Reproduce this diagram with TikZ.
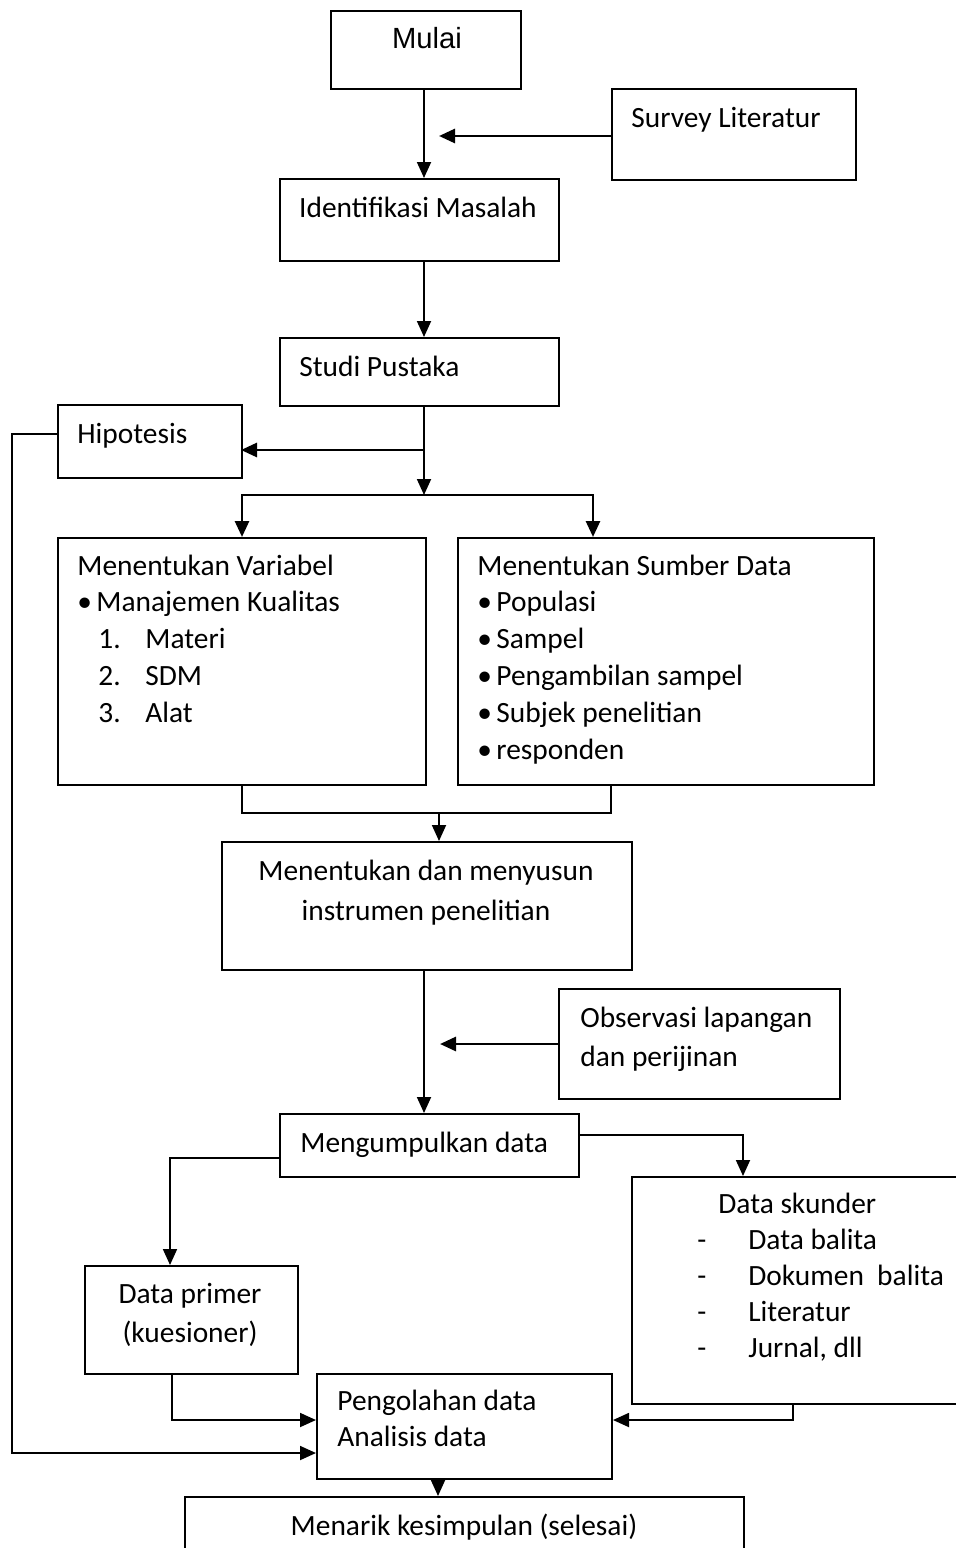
\documentclass[tikz,border=0pt]{standalone}
\usepackage{fontspec}
\setmainfont{Carlito}
\newfontfamily\arialfont{Liberation Sans}
\usetikzlibrary{arrows.meta, positioning}

\begin{document}
\begin{tikzpicture}[
    x=0.5pt, y=-0.5pt,
    box/.style={draw, line width=1pt, inner sep=0, anchor=north west},
    txt/.style={inner sep=0, anchor=base west, align=flush left, font=\fontsize{14.7}{18.4}\selectfont},
    ctxt/.style={txt, anchor=base, align=flush center},
    link/.style={line width=0.9pt},
    arrow/.style={link, -{Triangle[length=8pt, width=7pt]}},
    thickarrow/.style={arrow, line width=1.4pt}
]
\useasboundingbox (0,0) rectangle (956,1548);
\clip (0,0) rectangle (956,1548);

% boxes
\node[box, minimum width=95pt, minimum height=39pt] (mulai) at (330,10) {};
\node[txt, anchor=base, font=\arialfont\fontsize{14.6}{18}\selectfont] (mulaitxt) at (427,48) {Mulai};

\node[box, minimum width=122pt, minimum height=45.5pt] (survey) at (611,88) {};
\node[txt] (surveytxt) at (631,127) {Survey Literatur};

\node[box, minimum width=139.5pt, minimum height=41pt] (ident) at (279,178) {};
\node[ctxt] (identtxt) at (418,217) {Identifikasi Masalah};

\node[box, minimum width=139.5pt, minimum height=34pt] (studi) at (279,337) {};
\node[txt] (studitxt) at (299,376) {Studi Pustaka};

\node[box, minimum width=92pt, minimum height=36.5pt] (hipo) at (57,404) {};
\node[txt] (hipotxt) at (77,443) {Hipotesis};

\node[box, minimum width=184pt, minimum height=123.5pt] (var) at (57,537) {};
\node[txt, text width=170pt] (vartxt) at (77,575) {Menentukan Variabel\\
    \makebox[9.5pt][l]{\textbullet}Manajemen Kualitas\\
    \hspace*{10.5pt}\makebox[23.5pt][l]{1.}Materi\\
    \hspace*{10.5pt}\makebox[23.5pt][l]{2.}SDM\\
    \hspace*{10.5pt}\makebox[23.5pt][l]{3.}Alat};

\node[box, minimum width=208pt, minimum height=123.5pt] (sumber) at (457,537) {};
\node[txt, text width=200pt] (sumbertxt) at (477,575) {Menentukan Sumber Data\\
    \makebox[9.5pt][l]{\textbullet}Populasi\\
    \makebox[9.5pt][l]{\textbullet}Sampel\\
    \makebox[9.5pt][l]{\textbullet}Pengambilan sampel\\
    \makebox[9.5pt][l]{\textbullet}Subjek penelitian\\
    \makebox[9.5pt][l]{\textbullet}responden};

\node[box, minimum width=205pt, minimum height=64pt] (instr) at (221,841) {};
\node[ctxt, text width=200pt] (instrtxt) at (426,880) {Menentukan dan menyusun\\[2pt] instrumen penelitian};

\node[box, minimum width=140.5pt, minimum height=55pt] (obs) at (558,988) {};
\node[txt, text width=130pt] (obstxt) at (580,1027) {Observasi lapangan\\[1.5pt] dan perijinan};

\node[box, minimum width=149.5pt, minimum height=31.5pt] (kumpul) at (279,1113) {};
\node[txt] (kumpultxt) at (300,1152) {Mengumpulkan data};

\node[box, minimum width=200pt, minimum height=113.5pt] (skunder) at (631,1176) {};
\node[txt, text width=150pt, font=\fontsize{14.7}{18}\selectfont] (skundertxt) at (697,1213) {\hspace*{10.5pt}Data skunder\\
    \makebox[25.5pt][l]{-}Data balita\\
    \makebox[25.5pt][l]{-}Dokumen\ \ balita\\
    \makebox[25.5pt][l]{-}Literatur\\
    \makebox[25.5pt][l]{-}Jurnal, dll};

\node[box, minimum width=106.5pt, minimum height=54pt] (primer) at (84,1265) {};
\node[ctxt, text width=100pt] (primertxt) at (190,1303) {Data primer\\[1.5pt] (kuesioner)};

\node[box, minimum width=147.5pt, minimum height=52.5pt] (olah) at (316,1373) {};
\node[txt, text width=130pt] (olahtxt) at (337,1410) {Pengolahan data\\ Analisis data};

\node[box, minimum width=279.5pt, minimum height=50pt] (simpul) at (184,1496) {};
\node[ctxt] (simpultxt) at (464,1535) {Menarik kesimpulan (selesai)};

% connector points
\coordinate (axis) at (424,0);
\coordinate (svin) at (439,136);
\coordinate (hipoin) at (241,450);
\coordinate (fork) at (424,495);
\coordinate (srcin) at (593,495);
\coordinate (loop) at (12,434);
\coordinate (loopin) at (316,1453);
\coordinate (joinr) at (611,813);
\coordinate (joinin) at (439,813);
\coordinate (obsin) at (440,1044);
\coordinate (skin) at (743,1135);
\coordinate (prin) at (170,1158);
\coordinate (prout) at (172,1420);
\coordinate (skout) at (793,1420);
\coordinate (olout) at (438,0);

% connectors
\draw[arrow] (mulai.south -| axis) -- (ident.north -| axis);
\draw[thickarrow] (survey.west |- svin) -- (svin);
\draw[arrow] (ident.south -| axis) -- (studi.north -| axis);
\draw[arrow] (studi.south -| axis) -- (fork);
\draw[thickarrow] (axis |- hipoin) -- (hipoin);
\draw[thickarrow] (fork) -| (var.north);
\draw[thickarrow] (fork) -| (sumber.north -| srcin);
\draw[arrow] (hipo.west |- loop) -- (loop) |- (loopin);
\draw[link] (var.south) |- (joinr) -- (sumber.south -| joinr);
\draw[arrow] (joinin) -- (instr.north -| joinin);
\draw[arrow] (instr.south -| axis) -- (kumpul.north -| axis);
\draw[thickarrow] (obs.west |- obsin) -- (obsin);
\draw[arrow] (kumpul.east |- skin) -| (skunder.north -| skin);
\draw[arrow] (kumpul.west |- prin) -| (primer.north -| prin);
\draw[arrow] (primer.south -| prout) |- (olah.west |- prout);
\draw[arrow] (skunder.south -| skout) |- (olah.east |- skout);
\draw[arrow] (olah.south -| olout) -- (simpul.north -| olout);

\end{tikzpicture}
\end{document}
